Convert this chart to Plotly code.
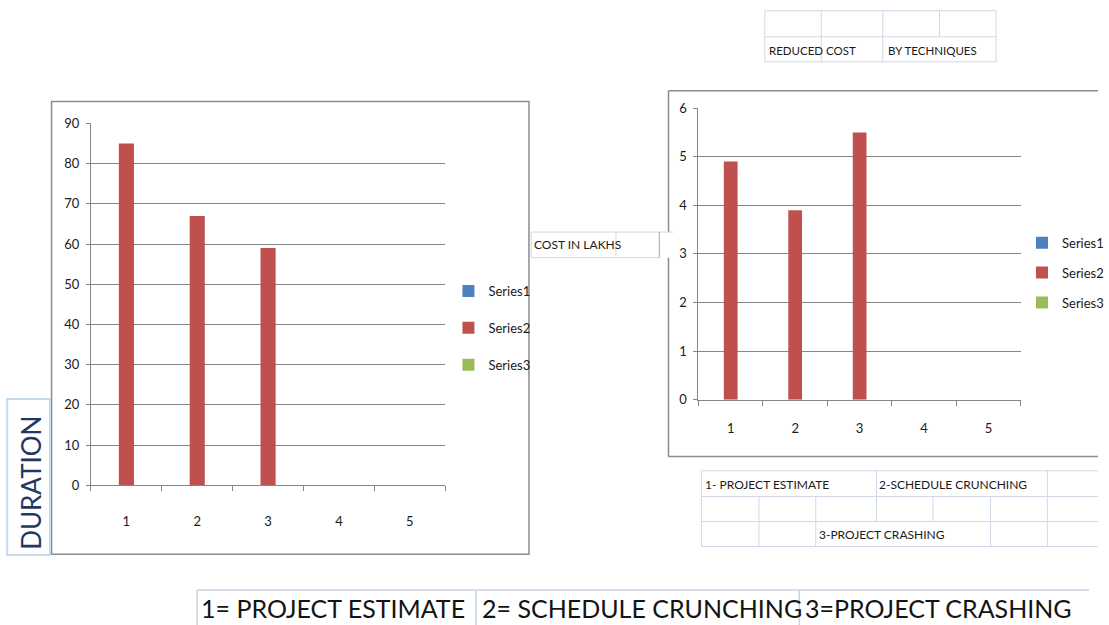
import plotly.graph_objects as go

# ---- data -------------------------------------------------------------
categories = ["1", "2", "3", "4", "5"]
series_names = ["Series1", "Series2", "Series3"]
series_colors = ["#4f81bd", "#c0504d", "#9bbb59"]

duration_series1 = [None, None, None, None, None]
duration_series2 = [85, 67, 59, None, None]
duration_series3 = [None, None, None, None, None]

cost_series1 = [None, None, None, None, None]
cost_series2 = [4.9, 3.9, 5.5, None, None]
cost_series3 = [None, None, None, None, None]

duration_ticks = [0, 10, 20, 30, 40, 50, 60, 70, 80, 90]
cost_ticks = [0, 1, 2, 3, 4, 5, 6]

duration_label = "DURATION"
cost_label = "COST IN LAKHS"
top_table_texts = ["REDUCED", "COST", "BY TECHNIQUES"]
key_small = ["1- PROJECT ESTIMATE", "2-SCHEDULE CRUNCHING", "3-PROJECT CRASHING"]
key_large = ["1= PROJECT ESTIMATE", "2= SCHEDULE CRUNCHING", "3=PROJECT CRASHING"]

# ---- page geometry (pixels -> paper fractions) ------------------------
W, H = 1109, 625
Y_OFFSET = 9.0      # vertical placement of the sheet rows
Y_SCALE = 0.9728
FONT = "Lato, Carlito, Calibri, sans-serif"
GRID = "#868686"
CELL = "#d0d7e5"


def fx(x):
    return x / W


def fy(y):
    return 1 - (y - Y_OFFSET) / Y_SCALE / H


fig = go.Figure()

duration_sets = [duration_series1, duration_series2, duration_series3]
cost_sets = [cost_series1, cost_series2, cost_series3]

for name, color, vals in zip(series_names, series_colors, duration_sets):
    fig.add_trace(go.Bar(
        x=categories, y=vals, name=name, marker_color=color,
        marker_line_width=0, xaxis="x", yaxis="y",
        legend="legend", legendgroup="d" + name, hoverinfo="skip",
    ))

for name, color, vals in zip(series_names, series_colors, cost_sets):
    fig.add_trace(go.Bar(
        x=categories, y=vals, name=name, marker_color=color,
        marker_line_width=0, xaxis="x2", yaxis="y2",
        legend="legend2", legendgroup="c" + name, hoverinfo="skip",
    ))

tick_font = dict(family=FONT, size=13, color="#1a1a1a")


def xaxis_style(x0, x1, standoff):
    return dict(
        domain=[fx(x0), fx(x1)], type="category", categoryarray=categories,
        range=[-0.5, 4.5], showline=True, linecolor=GRID, linewidth=1,
        ticks="outside", tickson="boundaries", ticklen=5, tickcolor=GRID,
        showgrid=False, tickfont=tick_font, ticklabelstandoff=standoff,
        fixedrange=True,
    )


def yaxis_style(y0, y1, rng, tickvals, anchor):
    return dict(
        domain=[fy(y1), fy(y0)], range=rng, tickvals=tickvals,
        showline=True, linecolor=GRID, linewidth=1, showgrid=True,
        gridcolor=GRID, gridwidth=1, zeroline=False, ticks="outside",
        ticklen=4, tickcolor=GRID, tickfont=tick_font,
        ticklabelstandoff=4, anchor=anchor, fixedrange=True,
    )


legend_font = dict(family=FONT, size=13, color="#1a1a1a")

fig.update_layout(
    width=W, height=H, margin=dict(l=0, r=0, t=0, b=0),
    paper_bgcolor="white", plot_bgcolor="white",
    barmode="group", bargap=0.36, bargroupgap=0,
    xaxis=xaxis_style(92.3, 451.7, 24),
    yaxis=yaxis_style(124.3, 485.5, [0, 90], duration_ticks, "x"),
    xaxis2=dict(xaxis_style(708.7, 1035.7, 17), anchor="y2"),
    yaxis2=yaxis_style(109, 400, [0, 6], cost_ticks, "x2"),
    legend=dict(x=fx(455), y=fy(276.5), xanchor="left", yanchor="top",
                font=legend_font, tracegroupgap=17, traceorder="grouped",
                bgcolor="rgba(0,0,0,0)", itemclick=False),
    legend2=dict(x=fx(1037), y=fy(228.4), xanchor="left", yanchor="top",
                 font=legend_font, tracegroupgap=10, traceorder="grouped",
                 bgcolor="rgba(0,0,0,0)", itemclick=False),
    showlegend=True,
)

shapes = []


def line(x0, y0, x1, y1, color=CELL, width=1):
    shapes.append(dict(type="line", xref="paper", yref="paper",
                       x0=fx(x0), y0=fy(y0), x1=fx(x1), y1=fy(y1),
                       line=dict(color=color, width=width)))


def rect(x0, y0, x1, y1, color, width, fill="rgba(0,0,0,0)"):
    shapes.append(dict(type="rect", xref="paper", yref="paper",
                       x0=fx(x0), y0=fy(y0), x1=fx(x1), y1=fy(y1),
                       line=dict(color=color, width=width), fillcolor=fill))


FRAME = "#8c8c8c"
# chart frames (the second one runs on past the right edge of the page)
rect(52.3, 102.3, 536.7, 554.3, FRAME, 1.5)
line(678.3, 91.7, W + 5, 91.7, color=FRAME, width=1.5)
line(678.3, 456.7, W + 5, 456.7, color=FRAME, width=1.5)
line(678.3, 91.7, 678.3, 456.7, color=FRAME, width=1.5)

# "COST IN LAKHS" cell, sitting over the second chart's frame
rect(539, 232.7, 683, 258.3, "rgba(0,0,0,0)", 0, fill="white")
line(539, 232.7, 683, 232.7)
line(539, 258.3, 669, 258.3)
line(539, 232.7, 539, 258.3)
line(625, 232.7, 625, 258.3)
line(669, 232.7, 669, 258.3, color="#a6a6a6")

# top table
top_rows = [11.7, 37.7, 62.7]
top_cols = [776, 833.3, 895.7, 953.3, 1010.7]
for ry in top_rows:
    line(top_cols[0], ry, top_cols[-1], ry)
for cx in top_cols:
    line(cx, top_rows[0], cx, top_rows[1])
for cx in [776, 833.3, 895.7, 1010.7]:
    line(cx, top_rows[1], cx, top_rows[2])

# lower-right key table
key_rows = [471, 496.7, 521.7, 546.7]
key_cols = [711.7, 770, 827.7, 889.3, 946.7, 1005, 1062.7]
for ry in key_rows:
    line(key_cols[0], ry, W + 5, ry)
for cx in [711.7, 889.3, 1062.7]:
    line(cx, key_rows[0], cx, key_rows[1])
for cx in key_cols:
    line(cx, key_rows[1], cx, key_rows[2])
for cx in [711.7, 770, 827.7, 1005, 1062.7]:
    line(cx, key_rows[2], cx, key_rows[3])

# large key row along the bottom
line(200, 590, 1105, 590, color="#c9d3e3", width=1.5)
for cx in [200, 483, 811]:
    line(cx, 590, cx, 640, color="#c9d3e3", width=1.5)

# DURATION label box
rect(7.3, 399.3, 50.7, 555, "#c6d9f1", 2)

fig.update_layout(shapes=shapes)

annotations = []


def text(x, y, s, size, color="#1a1a1a", xanchor="left", angle=0):
    annotations.append(dict(xref="paper", yref="paper", x=fx(x), y=fy(y),
                            text=s, showarrow=False, xanchor=xanchor,
                            yanchor="middle", textangle=angle,
                            font=dict(family=FONT, size=size, color=color)))


text(778, 51, top_table_texts[0], 11.5)
text(836.5, 51, top_table_texts[1], 11.5)
text(899, 51, top_table_texts[2], 11.5)

text(540, 245.5, cost_label, 12)

text(713, 485, key_small[0], 12)
text(890, 485, key_small[1], 12)
text(829, 535, key_small[2], 12)

text(202, 608, key_large[0], 25, color="#141414")
text(487, 608, key_large[1], 25, color="#141414")
text(815, 608, key_large[2], 25, color="#141414")

annotations.append(dict(xref="paper", yref="paper", x=fx(31.5), y=fy(483),
                        text=duration_label, showarrow=False,
                        xanchor="center", yanchor="middle", textangle=-90,
                        font=dict(family=FONT, size=26, color="#1f3864")))

fig.update_layout(annotations=annotations)

fig.write_html("out.html", config={"displayModeBar": False})
